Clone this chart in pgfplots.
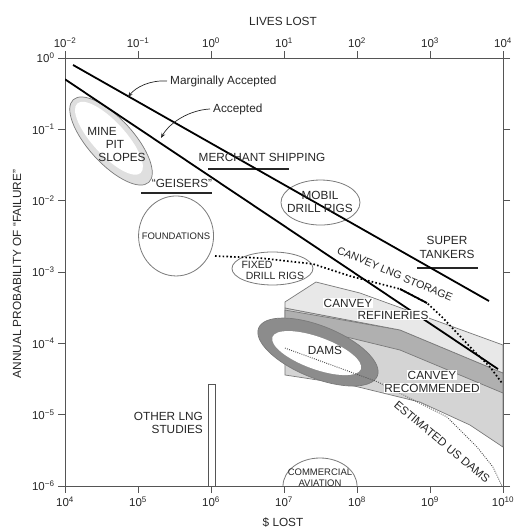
\documentclass[border=0pt]{standalone}
\usepackage{fontspec}
\setmainfont{Liberation Sans}
\usepackage{pgfplots}
\pgfplotsset{compat=1.18}
\usetikzlibrary{shapes.geometric,arrows.meta}
\definecolor{axc}{HTML}{555555}
\definecolor{txt}{HTML}{262626}
\definecolor{lgA}{HTML}{E8E8E8}
\definecolor{lgB}{HTML}{D4D4D4}
\definecolor{dgB}{HTML}{B0B0B0}
\definecolor{damc}{HTML}{8C8C8C}
\definecolor{edge}{HTML}{7A7A7A}
\newcommand{\lbl}{\fontsize{11.8}{12.5}\selectfont}
\newcommand{\tkl}{\fontsize{11.5}{12.5}\selectfont}
\newcommand{\sml}{\fontsize{9.5}{10.5}\selectfont}
\begin{document}
\begin{tikzpicture}
\useasboundingbox (-65pt,-43pt) rectangle (448pt,486pt);
\begin{axis}[
  scale only axis, width=438pt, height=428pt,
  at={(0pt,0pt)}, anchor=south west,
  xmode=log, ymode=log,
  xmin=1e4, xmax=1e10, ymin=1e-6, ymax=1,
  xminorticks=false, yminorticks=false,
  xtick={1e4,1e5,1e6,1e7,1e8,1e9,1e10},
  xticklabels={10\textsuperscript{4},10\textsuperscript{5},10\textsuperscript{6},10\textsuperscript{7},10\textsuperscript{8},10\textsuperscript{9},10\textsuperscript{10}},
  ytick={1e-6,1e-5,1e-4,1e-3,1e-2,1e-1,1},
  yticklabels={10\textsuperscript{−6},10\textsuperscript{−5},10\textsuperscript{−4},10\textsuperscript{−3},10\textsuperscript{−2},10\textsuperscript{−1},10\textsuperscript{0}},
  tick align=outside, major tick length=7pt,
  tick style={axc, line width=0.8pt},
  axis line style={axc, line width=0.8pt},
  tick label style={font=\tkl, text=txt},
  xtick pos=bottom, ytick pos=both,
]
% Canvey recommended (large band)
\addplot[fill=lgB, draw=edge, line width=0.7pt] coordinates {
 (1.03e7,3.13e-4) (3.88e8,1.54e-4) (1e10,3.84e-5) (1e10,3.52e-6) (3.53e9,7.16e-6)
 (7.30e8,1.50e-5) (8.02e7,2.61e-5) (1.03e7,3.60e-5)} -- cycle;
% darker band
\addplot[fill=dgB, draw=edge, line width=0.7pt] coordinates {
 (1.03e7,2.93e-4) (3.88e8,1.54e-4) (1e10,3.84e-5) (1e10,2.01e-5)
 (3.88e8,8.06e-5) (1.03e7,1.99e-4)} -- cycle;
% Canvey refineries
\addplot[fill=lgA, draw=edge, line width=0.7pt] coordinates {
 (1.03e7,3.80e-4) (2.74e7,7.24e-4) (1.10e8,5.07e-4) (1e10,9.47e-5) (1e10,3.84e-5)
 (3.88e8,1.54e-4) (1.03e7,3.13e-4)} -- cycle;
% Other LNG studies bar
\addplot[fill=white, draw=axc, line width=0.7pt] coordinates {
 (9.10e5,1e-6) (9.10e5,2.69e-5) (1.135e6,2.69e-5) (1.135e6,1e-6)} -- cycle;
% ellipses
\node[ellipse, draw=edge, fill=gray!25, line width=0.7pt, minimum width=112pt, minimum height=45pt, rotate=-47.6, inner sep=0pt] at (axis cs:4.27e4,6.86e-2) {};
\node[ellipse, fill=white, minimum width=94pt, minimum height=33pt, rotate=-47.6, inner sep=0pt] at (axis cs:4.0e4,7.5e-2) {};
\node[ellipse, draw=edge, line width=0.8pt, minimum width=75pt, minimum height=80pt, inner sep=0pt] at (axis cs:3.32e5,3.20e-3) {};
\node[ellipse, draw=edge, line width=0.8pt, minimum width=81pt, minimum height=33pt, inner sep=0pt] at (axis cs:6.95e6,1.12e-3) {};
\node[ellipse, draw=edge, line width=0.8pt, minimum width=79pt, minimum height=45pt, inner sep=0pt] at (axis cs:3.16e7,9.42e-3) {};
\node[ellipse, draw=edge, fill=damc, line width=0.7pt, minimum width=128pt, minimum height=52pt, rotate=-22, inner sep=0pt] at (axis cs:2.92e7,7.55e-5) {};
\node[ellipse, fill=white, minimum width=94pt, minimum height=32pt, rotate=-20, inner sep=0pt] at (axis cs:2.8e7,7.3e-5) {};
% commercial aviation
\draw[edge, line width=0.8pt] (axis cs:1e8,1e-6) arc[start angle=0, end angle=180, x radius=37pt, y radius=28pt];
% estimated US dams
\addplot[black!70, line width=0.9pt, dash pattern=on 0.9pt off 1.3pt] coordinates {
 (1.03e7,8.59e-5) (1.94e8,2.87e-5) (1.71e9,9.27e-6) (4.41e9,3.52e-6) (7.30e9,1.84e-6) (9.68e9,1e-6)};
% merchant shipping, geisers, super tankers
\addplot[black!85, line width=1.6pt] coordinates {(9.10e5,2.78e-2) (1.17e7,2.78e-2)};
\addplot[black!85, line width=1.6pt] coordinates {(1.10e5,1.28e-2) (1.03e6,1.28e-2)};
\addplot[black!85, line width=1.6pt] coordinates {(6.64e8,1.14e-3) (4.55e9,1.14e-3)};
% acceptance lines
\addplot[black, line width=1.8pt] coordinates {(1.29e4,0.798) (6.43e9,3.92e-4)};
\addplot[black, line width=1.8pt] coordinates {(1e4,0.503) (8.55e9,4.36e-5)};
% Canvey LNG storage
\addplot[black, line width=1.7pt, dash pattern=on 1.6pt off 2.2pt] coordinates {
 (1.135e6,1.675e-3) (4.69e6,1.57e-3) (2.50e7,1.295e-3) (8.02e7,8.78e-4) (3.88e8,5.78e-4)
 (9.10e8,3.67e-4) (1.46e9,2.34e-4) (2.34e9,1.40e-4) (3.88e9,8.06e-5) (6.64e9,4.66e-5) (9.68e9,2.78e-5)};
\addplot[black, line width=1.8pt] coordinates {(3.88e8,5.78e-4) (9.10e8,3.67e-4)};
\end{axis}
\begin{axis}[
  scale only axis, width=438pt, height=428pt,
  at={(0pt,0pt)}, anchor=south west,
  xmode=log, ymode=log,
  xmin=1e-2, xmax=1e4, ymin=1e-6, ymax=1,
  xminorticks=false,
  axis x line*=top, hide y axis,
  xtick={1e-2,1e-1,1,1e1,1e2,1e3,1e4},
  xticklabels={10\textsuperscript{−2},10\textsuperscript{−1},10\textsuperscript{0},10\textsuperscript{1},10\textsuperscript{2},10\textsuperscript{3},10\textsuperscript{4}},
  tick align=outside, major tick length=7pt,
  tick style={axc, line width=0.8pt},
  axis line style={axc, line width=0.8pt},
  tick label style={font=\tkl, text=txt},
]
\addplot[draw=none] coordinates {(1,1e-3)};
\end{axis}
\begin{scope}[shift={(-65pt,486pt)}, x=1pt, y=-1pt, every node/.style={text=txt, inner sep=0pt, font=\lbl}]
\node at (283,21) {LIVES LOST};
\node at (283,523) {\$ LOST};
\node[rotate=90] at (17,274) {ANNUAL PROBABILITY OF “FAILURE”};
\node[anchor=west] at (170,81) {Marginally Accepted};
\node[anchor=west] at (213,109) {Accepted};
\draw[txt, line width=0.7pt, -{Stealth[length=5pt,width=4pt]}] (167,81) .. controls (150,80) and (136,87) .. (128,97);
\draw[txt, line width=0.7pt, -{Stealth[length=5pt,width=4pt]}] (210,109) .. controls (190,110) and (170,122) .. (161,138);
\node at (102,131) {MINE};
\node at (115,144) {PIT};
\node at (122,157) {SLOPES};
\node at (262,157) {MERCHANT SHIPPING};
\node at (182,183) {“GEISERS”};
\node[font=\sml] at (176,236) {FOUNDATIONS};
\node[font=\fontsize{10.5}{11}\selectfont] at (257,265) {FIXED};
\node[font=\fontsize{10.5}{11}\selectfont] at (275,276) {DRILL RIGS};
\node at (320,195) {MOBIL};
\node at (320,208) {DRILL RIGS};
\node at (447,240) {SUPER};
\node at (447,254) {TANKERS};
\node[rotate=-23, font=\fontsize{10.7}{11}\selectfont] at (395,274) {CANVEY LNG STORAGE};
\node[fill=white, inner sep=0.8pt] at (348,303) {CANVEY};
\node[fill=white, inner sep=0.8pt] at (393,315) {REFINERIES};
\node at (325,350) {DAMS};
\node[fill=white, inner sep=0.8pt] at (432,375) {CANVEY};
\node[fill=white, inner sep=0.8pt] at (432,388) {RECOMMENDED};
\node[rotate=-40, font=\fontsize{11.5}{12}\selectfont] at (442,442) {ESTIMATED US DAMS};
\node[anchor=east] at (203,416) {OTHER LNG};
\node[anchor=east] at (203,429) {STUDIES};
\node[font=\sml] at (320,472) {COMMERCIAL};
\node[font=\sml] at (320,483) {AVIATION};
\end{scope}
\end{tikzpicture}
\end{document}
